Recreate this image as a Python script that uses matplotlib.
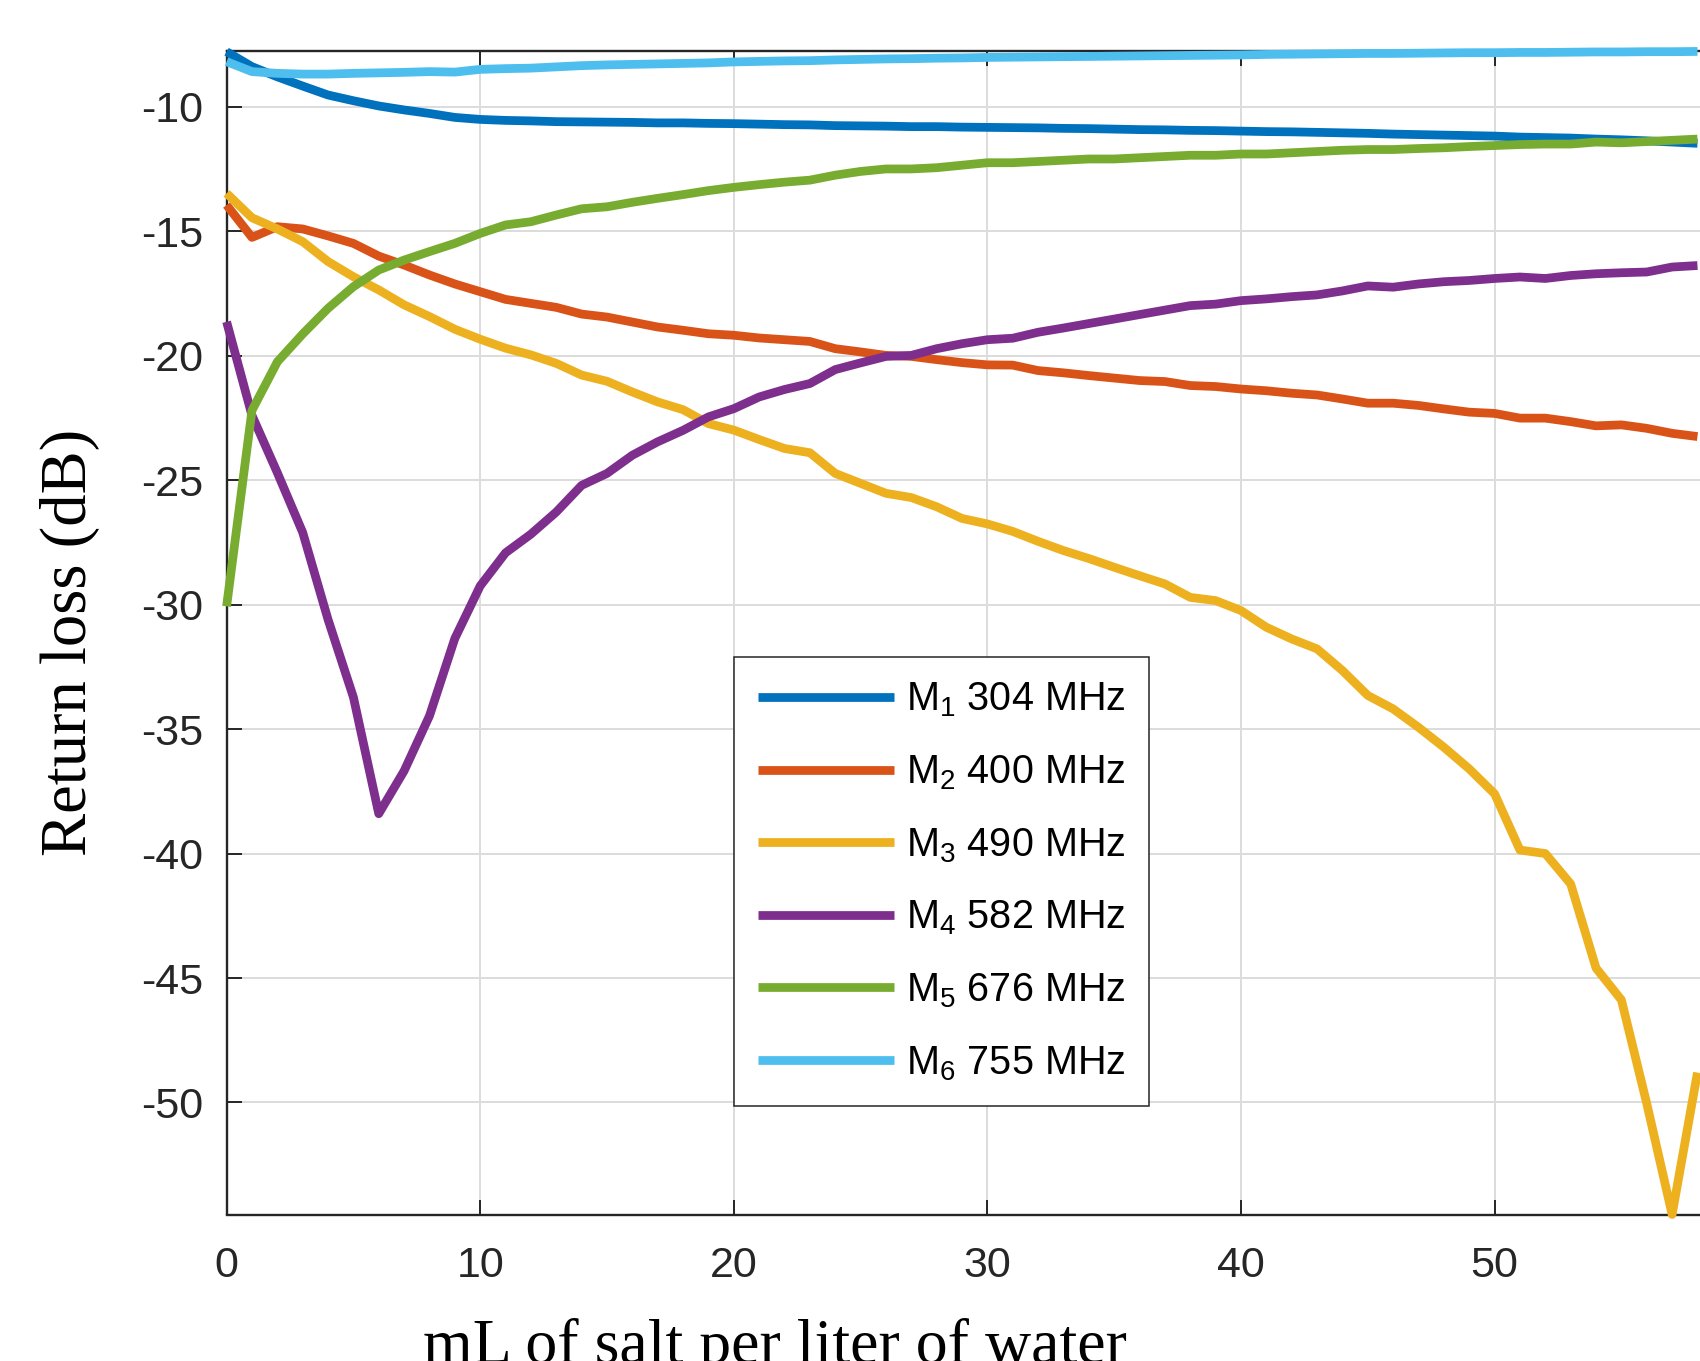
import numpy as np
import matplotlib
matplotlib.use("Agg")
import matplotlib.pyplot as plt

# ---------------- data ----------------
salt_ml = list(range(0, 59))

m1_304 = [-7.79, -8.39, -8.8, -9.17, -9.53, -9.76, -9.97, -10.13, -10.27, -10.43,
          -10.51, -10.55, -10.57, -10.6, -10.61, -10.62, -10.63, -10.65, -10.65, -10.67,
          -10.68, -10.7, -10.72, -10.73, -10.76, -10.77, -10.78, -10.8, -10.8, -10.82,
          -10.83, -10.84, -10.85, -10.87, -10.88, -10.9, -10.92, -10.93, -10.95, -10.96,
          -10.98, -11.0, -11.01, -11.03, -11.05, -11.07, -11.1, -11.12, -11.14, -11.16,
          -11.18, -11.22, -11.24, -11.26, -11.3, -11.33, -11.37, -11.42, -11.47]

m2_400 = [-13.95, -15.25, -14.82, -14.91, -15.19, -15.49, -16.0, -16.36, -16.76, -17.12,
          -17.43, -17.74, -17.9, -18.06, -18.33, -18.45, -18.65, -18.85, -18.98, -19.12,
          -19.18, -19.29, -19.36, -19.43, -19.72, -19.85, -19.99, -20.03, -20.16, -20.28,
          -20.37, -20.38, -20.6, -20.69, -20.8, -20.9, -21.0, -21.04, -21.2, -21.24,
          -21.34, -21.41, -21.51, -21.58, -21.74, -21.91, -21.91, -22.0, -22.14, -22.27,
          -22.32, -22.51, -22.51, -22.65, -22.82, -22.78, -22.92, -23.12, -23.25]

m3_490 = [-13.48, -14.46, -14.91, -15.42, -16.22, -16.83, -17.36, -17.96, -18.43, -18.94,
          -19.34, -19.7, -19.97, -20.31, -20.78, -21.03, -21.46, -21.86, -22.17, -22.73,
          -22.99, -23.37, -23.73, -23.9, -24.73, -25.13, -25.53, -25.7, -26.07, -26.54,
          -26.76, -27.06, -27.46, -27.83, -28.15, -28.5, -28.84, -29.17, -29.71, -29.84,
          -30.24, -30.91, -31.38, -31.78, -32.65, -33.65, -34.19, -34.93, -35.73, -36.6,
          -37.6, -39.86, -40.0, -41.22, -44.6, -45.88, -50.04, -54.5, -48.8]

m4_582 = [-18.64, -22.4, -24.7, -27.1, -30.6, -33.72, -38.4, -36.68, -34.47, -31.36,
          -29.25, -27.92, -27.17, -26.28, -25.21, -24.73, -24.0, -23.46, -23.0, -22.46,
          -22.13, -21.66, -21.36, -21.12, -20.56, -20.29, -20.03, -19.99, -19.72, -19.52,
          -19.36, -19.3, -19.06, -18.89, -18.71, -18.53, -18.35, -18.17, -17.99, -17.93,
          -17.79, -17.72, -17.63, -17.56, -17.4, -17.2, -17.25, -17.12, -17.03, -16.98,
          -16.9, -16.84, -16.9, -16.78, -16.71, -16.67, -16.64, -16.44, -16.38]

m5_676 = [-30.07, -22.2, -20.25, -19.13, -18.1, -17.23, -16.56, -16.16, -15.82, -15.49,
          -15.09, -14.75, -14.62, -14.35, -14.1, -14.02, -13.84, -13.68, -13.53, -13.37,
          -13.24, -13.13, -13.03, -12.95, -12.75, -12.6, -12.5, -12.5, -12.45, -12.35,
          -12.25, -12.25, -12.2, -12.15, -12.1, -12.1, -12.05, -12.0, -11.95, -11.95,
          -11.9, -11.9, -11.85, -11.8, -11.75, -11.72, -11.72, -11.68, -11.65, -11.6,
          -11.56, -11.52, -11.5, -11.5, -11.42, -11.45, -11.4, -11.35, -11.3]

m6_755 = [-8.19, -8.59, -8.66, -8.69, -8.69, -8.66, -8.64, -8.62, -8.59, -8.61,
          -8.5, -8.47, -8.45, -8.4, -8.35, -8.32, -8.3, -8.28, -8.26, -8.24,
          -8.2, -8.18, -8.16, -8.15, -8.12, -8.1, -8.08, -8.07, -8.05, -8.04,
          -8.02, -8.01, -8.0, -7.99, -7.98, -7.97, -7.96, -7.95, -7.94, -7.93,
          -7.92, -7.9, -7.89, -7.88, -7.87, -7.86, -7.86, -7.85, -7.84, -7.83,
          -7.83, -7.82, -7.82, -7.81, -7.8, -7.8, -7.79, -7.79, -7.78]

series = [m1_304, m2_400, m3_490, m4_582, m5_676, m6_755]
mode_labels = ["1", "2", "3", "4", "5", "6"]
freq_labels = ["304 MHz", "400 MHz", "490 MHz", "582 MHz", "676 MHz", "755 MHz"]
colors = ["#0072BD", "#D95319", "#EDB120", "#7E2F8E", "#77AC30", "#4DBEEE"]

x_ticks = [0, 10, 20, 30, 40, 50]
y_ticks = [-50, -45, -40, -35, -30, -25, -20, -15, -10]
x_label = "mL of salt per liter of water"
y_label = "Return loss (dB)"

# ---------------- style ----------------
plt.rcParams["axes.unicode_minus"] = False
plt.rcParams["font.family"] = ["Liberation Sans", "DejaVu Sans"]
plt.rcParams["mathtext.fontset"] = "custom"
plt.rcParams["mathtext.rm"] = "Liberation Sans"
plt.rcParams["mathtext.it"] = "Liberation Sans:italic"
plt.rcParams["mathtext.bf"] = "Liberation Sans:bold"

W, H = 1700, 1361
fig = plt.figure(figsize=(W / 100, H / 100), dpi=100)
ax = fig.add_axes([226.6 / W, 1 - 1214.5 / H, 1 - 226.6 / W, (1214.5 - 50.7) / H])

for ys, c, m, f in zip(series, colors, mode_labels, freq_labels):
    ax.plot(salt_ml, ys, color=c, lw=6.3, solid_joinstyle="round",
            solid_capstyle="butt", clip_on=False,
            label="M$_{\\mathregular{%s}}$ %s" % (m, f), zorder=3)

ax.set_xlim(0, 58.1)
ax.set_ylim(-54.5, -7.75)
ax.set_xticks(x_ticks)
ax.set_yticks(y_ticks)
ax.set_yticklabels([str(v) for v in y_ticks])

ax.grid(True, color="#dcdcdc", lw=1.4, zorder=0)
ax.set_axisbelow(True)

spine_c = "#262626"
for s in ["left", "top", "bottom"]:
    ax.spines[s].set_color(spine_c)
    ax.spines[s].set_linewidth(1.7)
    ax.spines[s].set_zorder(2)
ax.spines["right"].set_visible(False)

ax.tick_params(axis="both", direction="in", length=10.8, width=1.4,
               color=spine_c, labelcolor=spine_c, labelsize=31)
ax.tick_params(axis="x", top=True, pad=23)
ax.tick_params(axis="y", right=False, pad=17)

fig.text(775 / W, 1 - 1318 / H, x_label, family="Liberation Serif",
         fontsize=46, ha="center", va="top", color="black")
fig.text(70 / W, 1 - 642 / H, y_label, family="Liberation Serif",
         fontsize=46.5, ha="center", va="center", rotation=90, color="black")

leg = ax.legend(loc="upper left", bbox_to_anchor=(734 / W, 1 - 657 / H),
                bbox_transform=fig.transFigure, borderaxespad=0,
                fontsize=28.5, handlelength=3.45, handletextpad=0.3,
                labelspacing=0.86, borderpad=0.6, frameon=True,
                fancybox=False, framealpha=1, edgecolor=spine_c)
leg.get_frame().set_linewidth(1.1)
for t in leg.get_texts():
    t.set_color("black")
leg.set_zorder(5)

fig.savefig("out.png", dpi=100)
